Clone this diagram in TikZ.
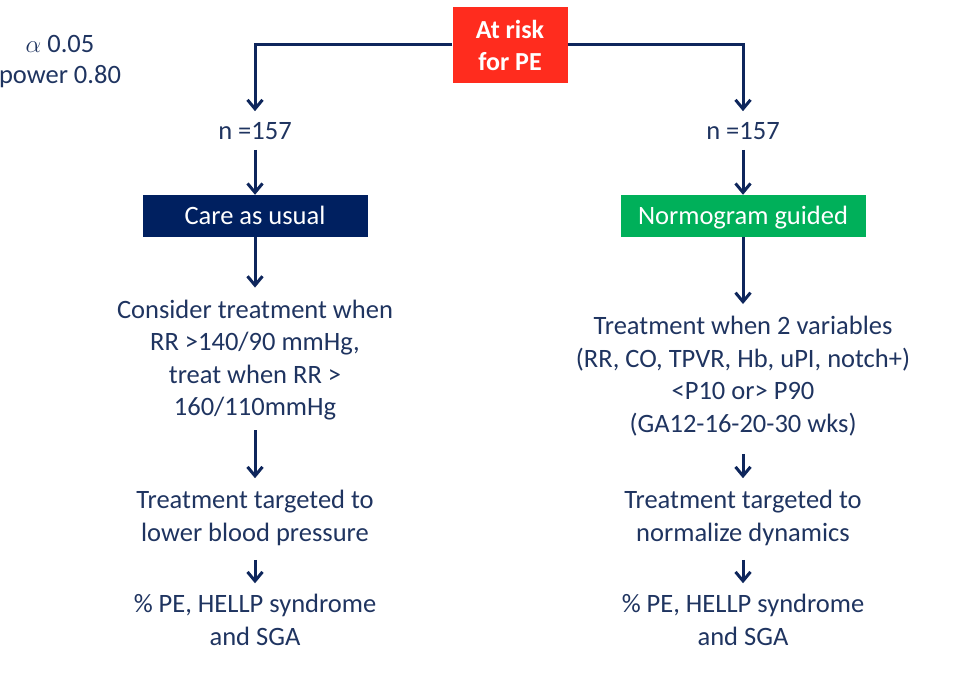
\documentclass[tikz,border=0pt]{standalone}
\usepackage{fontspec}
\setmainfont{Carlito}
\usetikzlibrary{arrows.meta,positioning}
\definecolor{txtnavy}{RGB}{31,52,96}
\definecolor{arrnavy}{RGB}{14,38,92}
\definecolor{carenavy}{RGB}{0,32,96}
\definecolor{normgreen}{RGB}{0,176,90}
\definecolor{riskred}{RGB}{255,44,30}
\tikzset{
  txt/.style={align=center,text=txtnavy,inner sep=0pt,
    font=\fontsize{26.5}{32.5}\selectfont},
  armbox/.style={fill=#1,text=white,inner sep=0pt,minimum height=42pt,
    text height=20pt,text depth=4pt,font=\fontsize{26.5}{30}\selectfont},
  flow/.style={->,draw=arrnavy,line width=3pt}
}
\begin{document}
\begin{tikzpicture}[x=1pt,y=-1pt,>={Straight Barb[length=9pt,width=15pt]}]
\useasboundingbox (0,0) rectangle (972,674);
\node[fill=riskred,text=white,align=center,minimum width=115pt,minimum height=76pt,inner sep=0pt,
  font=\fontsize{26}{32}\selectfont\bfseries] (risk) at (510,45) {At risk\\for PE};
\node[txt,font=\fontsize{26.5}{31}\selectfont] (stats) at (60,62) {$\alpha$ 0.05\\power 0.80};

\node[txt] (nl) at (255,131) {n =157};
\node[txt,right of = nl,node distance=488pt] (nr) {n =157};
\node[armbox=carenavy,minimum width=225pt,below of = nl,node distance=85pt] (care) {Care as usual};
\node[armbox=normgreen,minimum width=245pt,below of = nr,node distance=85pt] (norm) {Normogram guided};

\node[txt,below of = care,node distance=144pt] (consl) {Consider treatment when\\RR >140/90 mmHg,\\treat when RR >\\160/110mmHg};
\node[txt,below of = norm,node distance=160pt] (treatr) {Treatment when 2 variables\\(RR, CO, TPVR, Hb, uPI, notch+)\\<P10 or> P90\\(GA12-16-20-30 wks)};
\node[txt,below of = consl,node distance=158pt] (targl) {Treatment targeted to\\lower blood pressure};
\node[txt,below of = treatr,node distance=142pt] (targr) {Treatment targeted to\\normalize dynamics};
\node[txt,below of = targl,node distance=102pt] (outl) {\% PE, HELLP syndrome\\and SGA};
\node[txt,below of = targr,node distance=102pt] (outr) {\% PE, HELLP syndrome\\and SGA};

\draw [flow] (risk.west) -| ([yshift=11pt]nl.north);
\draw [flow] (risk.east) -| ([yshift=11pt]nr.north);
\draw [flow] ([yshift=-10pt]nl.south) -- (care.north);
\draw [flow] ([yshift=-10pt]nr.south) -- (norm.north);
\draw [flow] (care.south) -- ([yshift=12pt]consl.north);
\draw [flow] (norm.south) -- ([yshift=12pt]treatr.north);
\draw [flow] ([yshift=-10pt]consl.south) -- ([yshift=12pt]targl.north);
\draw [flow] ([yshift=-18pt]treatr.south) -- ([yshift=12pt]targr.north);
\draw [flow] ([yshift=-14pt]targl.south) -- ([yshift=11pt]outl.north);
\draw [flow] ([yshift=-14pt]targr.south) -- ([yshift=11pt]outr.north);
%
\end{tikzpicture}
\end{document}
